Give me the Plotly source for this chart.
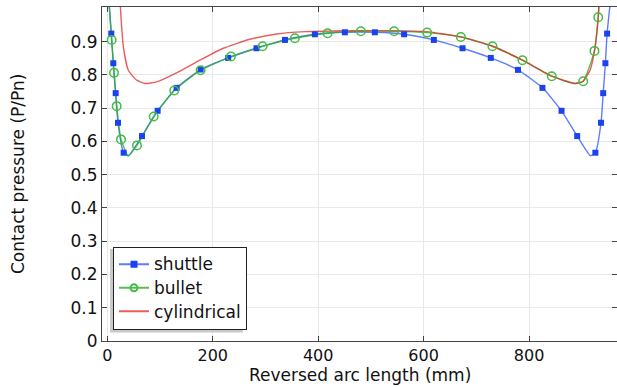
import plotly.graph_objects as go

# Reversed arc length (mm) and normalised contact pressure P/Pn for each nose profile
shuttle_s = [3.6, 7.6, 11.4, 15.9, 20.3, 31.0, 39.8, 65.8, 95.5, 131.5, 177.0, 229.4,
             283.0, 337.0, 393.7, 450.6, 507.5, 563.0, 619.4, 673.8, 727.4, 779.0,
             825.4, 861.6, 891.3, 916.5, 925.8, 936.5, 940.6, 944.8, 948.0, 953.5]
shuttle_p = [1.01, 0.924, 0.835, 0.745, 0.656, 0.566, 0.557, 0.616, 0.692, 0.761, 0.816, 0.851,
             0.880, 0.905, 0.922, 0.928, 0.928, 0.922, 0.905, 0.880, 0.851, 0.815,
             0.761, 0.692, 0.616, 0.557, 0.566, 0.656, 0.745, 0.835, 0.924, 1.01]
shuttle_mark = [0, 1, 1, 1, 1, 1, 0, 1, 1, 1, 1, 1,
                1, 1, 1, 1, 1, 1, 1, 1, 1, 1,
                1, 1, 1, 0, 1, 1, 1, 1, 1, 0]

bullet_s = [3.6, 8.3, 12.7, 17.8, 26.0, 39.8, 56.3, 88.0, 127.0, 177.0, 234.5, 294.6,
            355.8, 417.8, 481.0, 544.0, 606.7, 670.6, 730.6, 787.5, 843.0, 887.0,
            902.7, 924.0, 931.2, 932.7]
bullet_p = [1.01, 0.905, 0.806, 0.706, 0.606, 0.557, 0.588, 0.675, 0.753, 0.814, 0.855, 0.886,
            0.910, 0.925, 0.931, 0.931, 0.927, 0.914, 0.886, 0.844, 0.796, 0.774,
            0.781, 0.872, 0.973, 1.017]
bullet_mark = [0, 1, 1, 1, 1, 0, 1, 1, 1, 1, 1, 1,
               1, 1, 1, 1, 1, 1, 1, 1, 1, 0,
               1, 1, 1, 0]

cyl_s = [24.3, 30.4, 39.8, 55.8, 71.5, 93.6, 131.5, 175.7, 220.0, 270.5, 321.0, 375.0,
         430.0, 478.0, 530.0, 605.5, 670.6, 730.6, 787.5, 843.0, 887.0, 902.7,
         916.0, 924.0, 931.2, 932.7]
cyl_p = [1.017, 0.884, 0.814, 0.784, 0.774, 0.779, 0.806, 0.844, 0.880, 0.907, 0.923, 0.930,
         0.932, 0.933, 0.933, 0.930, 0.914, 0.886, 0.844, 0.796, 0.774, 0.781,
         0.815, 0.872, 0.973, 1.017]

x_ticks = [0, 200, 400, 600, 800]
y_ticks = [0, 0.1, 0.2, 0.3, 0.4, 0.5, 0.6, 0.7, 0.8, 0.9]

FONT = "DejaVu Sans"
TXT = "#111"
BLUE_LINE = "rgba(40,80,255,0.75)"
BLUE_MARK = "#1a42f0"
GREEN_LINE = "rgba(40,175,40,0.8)"
GREEN_MARK = "#41bd41"
RED_LINE = "rgba(225,40,40,0.75)"

# figure / plot-area geometry in pixels
W, H = 617, 387
ML, MR, MT, MB = 102, 0, 7, 46
PW, PH = W - ML - MR, H - MT - MB


def px_x(px):
    return (px - ML) / PW


def px_y(py):
    return (H - MB - py) / PH


def pick(vals, flags):
    return [v for v, f in zip(vals, flags) if f]


fig = go.Figure()

# curves
fig.add_trace(go.Scatter(x=shuttle_s, y=shuttle_p, mode="lines", showlegend=False,
                         line=dict(color=BLUE_LINE, width=1.4, shape="spline", smoothing=0.5)))
fig.add_trace(go.Scatter(x=bullet_s, y=bullet_p, mode="lines", showlegend=False,
                         line=dict(color=GREEN_LINE, width=1.4, shape="spline", smoothing=0.5)))
fig.add_trace(go.Scatter(x=cyl_s, y=cyl_p, mode="lines", showlegend=False,
                         line=dict(color=RED_LINE, width=1.4, shape="spline", smoothing=0.5)))

# markers on top of all curves
fig.add_trace(go.Scatter(x=pick(shuttle_s, shuttle_mark), y=pick(shuttle_p, shuttle_mark),
                         mode="markers", showlegend=False,
                         marker=dict(symbol="square", size=6, color=BLUE_MARK)))
fig.add_trace(go.Scatter(x=pick(bullet_s, bullet_mark), y=pick(bullet_p, bullet_mark),
                         mode="markers", showlegend=False,
                         marker=dict(symbol="circle-open", size=8.5, color=GREEN_MARK,
                                     line=dict(width=1.5, color=GREEN_MARK))))

# legend entries
LEG = '<span style="font-size:17px">%s</span>'
fig.add_trace(go.Scatter(x=[None], y=[None], mode="lines+markers", name=LEG % "shuttle",
                         line=dict(color=BLUE_LINE, width=2),
                         marker=dict(symbol="square", size=7, color=BLUE_MARK)))
fig.add_trace(go.Scatter(x=[None], y=[None], mode="lines+markers", name=LEG % "bullet",
                         line=dict(color=GREEN_LINE, width=2),
                         marker=dict(symbol="circle-open", size=7, color=GREEN_MARK,
                                     line=dict(width=2, color=GREEN_MARK))))
fig.add_trace(go.Scatter(x=[None], y=[None], mode="lines", name=LEG % "cylindrical",
                         line=dict(color=RED_LINE, width=2)))

axis_common = dict(showline=True, linecolor="#444", linewidth=1, mirror="ticks",
                   ticks="inside", ticklen=5, tickcolor="#444", tickwidth=1,
                   showgrid=True, gridcolor="#e9e9e9", gridwidth=1, zeroline=False)

fig.update_xaxes(range=[-10.05, 966.8], tickvals=x_ticks, ticklabelstandoff=0,
                 tickfont=dict(family=FONT, size=16, color=TXT), **axis_common)
fig.update_yaxes(range=[0, 1.004], tickvals=y_ticks,
                 ticktext=[("%g" % v) for v in y_ticks],
                 tickfont=dict(family=FONT, size=17, color=TXT), **axis_common)

# axis titles
fig.add_annotation(text="Reversed arc length (mm)", xref="paper", yref="paper",
                   x=0.5 * (px_x(102) + px_x(617)), y=px_y(375), xanchor="center", yanchor="middle",
                   showarrow=False, font=dict(family=FONT, size=17, color=TXT))
fig.add_annotation(text="Contact pressure (P/Pn)", xref="paper", yref="paper",
                   x=px_x(17.5), y=px_y(174.5), xanchor="center", yanchor="middle",
                   textangle=-90, showarrow=False, font=dict(family=FONT, size=17, color=TXT))

# legend drop shadow
fig.add_shape(type="rect", xref="paper", yref="paper",
              x0=px_x(110), x1=px_x(243), y0=px_y(332.5), y1=px_y(249),
              fillcolor="#c9c9c9", line=dict(width=0), layer="above")

fig.update_layout(
    width=W, height=H,
    margin=dict(l=ML, r=MR, t=MT, b=MB),
    paper_bgcolor="white", plot_bgcolor="white",
    font=dict(family=FONT, size=17, color=TXT),
    legend=dict(x=px_x(113), y=px_y(329.5), xanchor="left", yanchor="bottom",
                bgcolor="white", bordercolor="#222", borderwidth=1,
                font=dict(family=FONT, size=15.8, color=TXT),
                tracegroupgap=0, itemwidth=30),
)

fig.write_html("out.html")
